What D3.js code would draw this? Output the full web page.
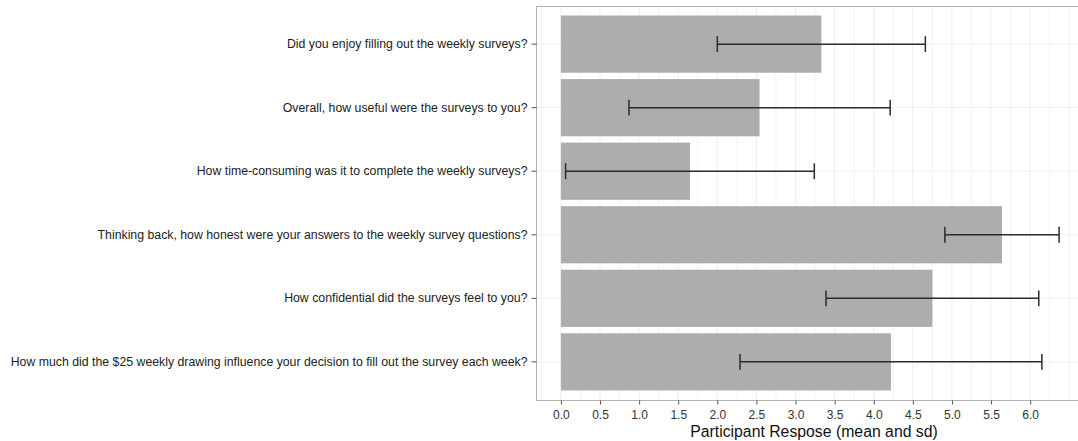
<!DOCTYPE html>
<html>
<head>
<meta charset="utf-8">
<script src="https://cdn.jsdelivr.net/npm/d3@7"></script>
<style>
  html, body { margin: 0; padding: 0; background: #ffffff; }
  svg { display: block; }
</style>
</head>
<body>
<svg id="chart" width="1078" height="441"></svg>
<script>
// ---- data ----
const categories = [
  "Did you enjoy filling out the weekly surveys?",
  "Overall, how useful were the surveys to you?",
  "How time-consuming was it to complete the weekly surveys?",
  "Thinking back, how honest were your answers to the weekly survey questions?",
  "How confidential did the surveys feel to you?",
  "How much did the $25 weekly drawing influence your decision to fill out the survey each week?"
];
const means = [3.33, 2.54, 1.65, 5.64, 4.75, 4.22];
const sds   = [1.33, 1.67, 1.59, 0.73, 1.36, 1.93];
const xTickValues = [0, 0.5, 1, 1.5, 2, 2.5, 3, 3.5, 4, 4.5, 5, 5.5, 6];
const xTickLabels = ["0.0","0.5","1.0","1.5","2.0","2.5","3.0","3.5","4.0","4.5","5.0","5.5","6.0"];
const xMinorValues = [-0.25, 0.25, 0.75, 1.25, 1.75, 2.25, 2.75, 3.25, 3.75, 4.25, 4.75, 5.25, 5.75, 6.25, 6.5];
const xTitle = "Participant Respose (mean and sd)";

const rows = categories.map((c, i) => ({ cat: c, mean: means[i], sd: sds[i] }));

// ---- layout ----
const panel = { left: 536, right: 1084, top: 6, bottom: 400 };
const svg = d3.select("#chart");
const FONT = "'Liberation Sans', Arial, Helvetica, sans-serif";

// x domain: 0 .. max(mean+sd), expanded 5% each side (ggplot style)
const hiRaw = d3.max(rows, d => d.mean + d.sd);
const loRaw = Math.min(0, d3.min(rows, d => d.mean - d.sd));
const ext = (hiRaw - loRaw) * 0.05;
const x = d3.scaleLinear().domain([loRaw - ext, hiRaw + ext]).range([panel.left, panel.right]);

const y = d3.scaleBand().domain(categories)
  .range([panel.top, panel.bottom])
  .paddingInner(0.1).paddingOuter(0.15);
const step = y.step();
const yc = c => y(c) + y.bandwidth() / 2;

// clip for panel
svg.append("defs").append("clipPath").attr("id", "pclip")
  .append("rect").attr("x", panel.left).attr("y", panel.top)
  .attr("width", panel.right - panel.left).attr("height", panel.bottom - panel.top);

const g = svg.append("g").attr("clip-path", "url(#pclip)");

// minor grid
g.selectAll("line.minor").data(xMinorValues).enter().append("line")
  .attr("x1", d => x(d)).attr("x2", d => x(d))
  .attr("y1", panel.top).attr("y2", panel.bottom)
  .attr("stroke", "#f2f2f2").attr("stroke-width", 1);
// major grid x
g.selectAll("line.majx").data(xTickValues).enter().append("line")
  .attr("x1", d => x(d)).attr("x2", d => x(d))
  .attr("y1", panel.top).attr("y2", panel.bottom)
  .attr("stroke", "#e8e8e8").attr("stroke-width", 0.8);
// major grid y
g.selectAll("line.majy").data(categories).enter().append("line")
  .attr("x1", panel.left).attr("x2", panel.right)
  .attr("y1", d => yc(d)).attr("y2", d => yc(d))
  .attr("stroke", "#ececec").attr("stroke-width", 0.8);

// bars
g.selectAll("rect.bar").data(rows).enter().append("rect")
  .attr("x", x(0)).attr("y", d => y(d.cat))
  .attr("width", d => x(d.mean) - x(0))
  .attr("height", y.bandwidth())
  .attr("fill", "#adadad");

// error bars
const capH = step * 0.25;
const eb = g.selectAll("g.eb").data(rows).enter().append("g")
  .attr("stroke", "#2b2b2b").attr("stroke-width", 1.5);
eb.append("line")
  .attr("x1", d => x(d.mean - d.sd)).attr("x2", d => x(d.mean + d.sd))
  .attr("y1", d => yc(d.cat)).attr("y2", d => yc(d.cat));
eb.append("line")
  .attr("x1", d => x(d.mean - d.sd)).attr("x2", d => x(d.mean - d.sd))
  .attr("y1", d => yc(d.cat) - capH / 2).attr("y2", d => yc(d.cat) + capH / 2);
eb.append("line")
  .attr("x1", d => x(d.mean + d.sd)).attr("x2", d => x(d.mean + d.sd))
  .attr("y1", d => yc(d.cat) - capH / 2).attr("y2", d => yc(d.cat) + capH / 2);

// panel border
svg.append("rect")
  .attr("x", panel.left + 0.5).attr("y", panel.top + 0.5)
  .attr("width", panel.right - panel.left).attr("height", panel.bottom - panel.top)
  .attr("fill", "none").attr("stroke", "#b0b0b0").attr("stroke-width", 1);

// x axis
const xAxis = d3.axisBottom(x).tickValues(xTickValues)
  .tickFormat((d, i) => xTickLabels[i]).tickSize(4).tickPadding(6);
const gx = svg.append("g").attr("transform", `translate(0,${panel.bottom + 0.5})`).call(xAxis);
gx.select(".domain").remove();
gx.selectAll(".tick line").attr("stroke", "#555").attr("stroke-width", 1);
gx.selectAll(".tick text").attr("fill", "#333").style("font-family", FONT).style("font-size", "12px");

// y axis
const yAxis = d3.axisLeft(y).tickSize(5).tickPadding(4);
const gy = svg.append("g").attr("transform", `translate(${panel.left + 0.5},0)`).call(yAxis);
gy.select(".domain").remove();
gy.selectAll(".tick line").attr("stroke", "#555").attr("stroke-width", 1);
gy.selectAll(".tick text").attr("fill", "#222").style("font-family", FONT).style("font-size", "12.3px");

// x title
svg.append("text")
  .attr("x", 814).attr("y", 437)
  .attr("text-anchor", "middle")
  .style("font-family", FONT).style("font-size", "15.8px").attr("fill", "#111")
  .text(xTitle);
</script>
</body>
</html>
